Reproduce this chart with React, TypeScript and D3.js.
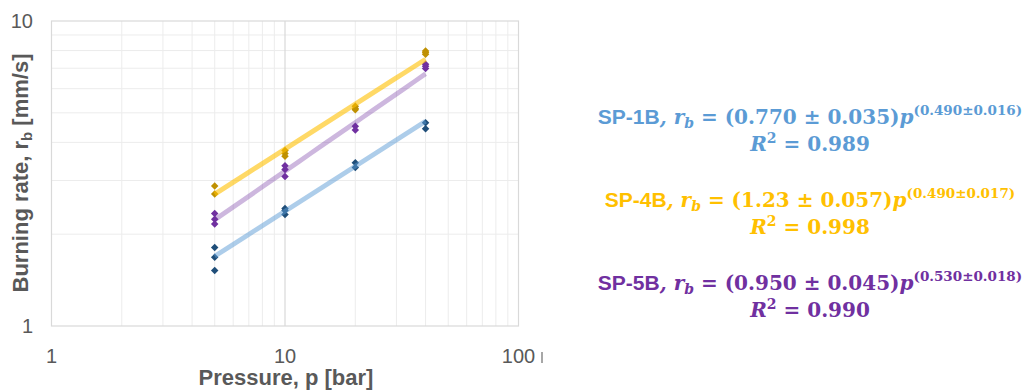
import React from "react";
import * as d3 from "d3";

// Burning-rate measurements (pressure in bar, rate in mm/s)
const sp1bPressure = [5, 5, 5, 10, 10, 10, 20, 20, 40, 40];
const sp1bRate = [1.81, 1.68, 1.52, 2.43, 2.39, 2.32, 3.43, 3.31, 4.64, 4.43];

const sp4bPressure = [5, 5, 10, 10, 10, 20, 20, 20, 40, 40, 40];
const sp4bRate = [2.88, 2.71, 3.76, 3.68, 3.6, 5.25, 5.17, 5.12, 7.98, 7.88, 7.78];

const sp5bPressure = [5, 5, 5, 10, 10, 10, 20, 20, 40, 40, 40];
const sp5bRate = [2.34, 2.24, 2.16, 3.35, 3.26, 3.09, 4.52, 4.39, 7.22, 7.1, 6.98];

// Power-law fits r_b = a * p^n
const seriesNames = ["SP-1B", "SP-4B", "SP-5B"];
const fitCoef = ["0.770", "1.23", "0.950"];
const fitCoefErr = ["0.035", "0.057", "0.045"];
const fitExp = ["0.490", "0.490", "0.530"];
const fitExpErr = ["0.016", "0.017", "0.018"];
const fitR2 = ["0.989", "0.998", "0.990"];
const fitRange = [5, 40];

const xTicks = [1, 10, 100];
const yTicks = [1, 10];

const W = 1025;
const H = 390;
const plot = { left: 51.5, right: 518.5, top: 21, bottom: 326 };

const markerColors = ["#1f4e79", "#bf9000", "#7030a0"];
const lineColors = ["#5b9bd5", "#ffc000", "#7030a0"];
const lineOpacity = [0.5, 0.6, 0.35];
const labelColors = ["#5b9bd5", "#ffc000", "#7030a0"];

const TEXT = "#595959";
const SANS = "'Liberation Sans', Arial, sans-serif";
const MATH = "'DejaVu Serif', serif";

export default function App() {
  const x = d3.scaleLog().domain([1, 100]).range([plot.left, plot.right]);
  const y = d3.scaleLog().domain([1, 10]).range([plot.bottom, plot.top]);

  const series = [
    { p: sp1bPressure, r: sp1bRate },
    { p: sp4bPressure, r: sp4bRate },
    { p: sp5bPressure, r: sp5bRate },
  ];

  const xMinor: number[] = [];
  const yMinor: number[] = [];
  for (const dec of [1, 10]) {
    for (let k = 2; k <= 9; k++) xMinor.push(dec * k);
  }
  for (let k = 2; k <= 9; k++) yMinor.push(k);

  const diamond = d3.symbol(d3.symbolSquare, 28)() as string;

  const fitPath = (i: number) => {
    const a = +fitCoef[i];
    const n = +fitExp[i];
    const pts = d3.range(0, 21).map((k) => fitRange[0] * Math.pow(fitRange[1] / fitRange[0], k / 20));
    return d3
      .line<number>()
      .x((p) => x(p))
      .y((p) => y(a * Math.pow(p, n)))(pts) as string;
  };

  const legendX = 810;
  const legendBase = [124, 207, 290];

  return (
    <svg
      width={W}
      height={H}
      style={{ position: "absolute", left: 0, top: 0, background: "#fff" }}
    >
      <rect x={0} y={0} width={W} height={H} fill="#fff" />
      {/* grid */}
      {xMinor.map((v) => (
        <line key={"xm" + v} x1={x(v)} x2={x(v)} y1={plot.top} y2={plot.bottom} stroke="#ececec" strokeWidth={1} />
      ))}
      {yMinor.map((v) => (
        <line key={"ym" + v} x1={plot.left} x2={plot.right} y1={y(v)} y2={y(v)} stroke="#ececec" strokeWidth={1} />
      ))}
      <line x1={x(10)} x2={x(10)} y1={plot.top} y2={plot.bottom} stroke="#d9d9d9" strokeWidth={1.2} />
      <rect
        x={plot.left}
        y={plot.top}
        width={plot.right - plot.left}
        height={plot.bottom - plot.top}
        fill="none"
        stroke="#d9d9d9"
        strokeWidth={1.2}
      />

      {/* measured points */}
      {series.map((s, i) =>
        s.p.map((p, j) => (
          <path
            key={`m${i}-${j}`}
            d={diamond}
            transform={`translate(${x(p)},${y(s.r[j])}) rotate(45)`}
            fill={markerColors[i]}
          />
        ))
      )}

      {/* power-law trend lines */}
      {series.map((_, i) => (
        <path
          key={"fit" + i}
          d={fitPath(i)}
          fill="none"
          stroke={lineColors[i]}
          strokeOpacity={lineOpacity[i]}
          strokeWidth={4.8}
        />
      ))}

      {/* axis tick labels */}
      {yTicks.map((v) => (
        <text key={"yt" + v} x={33} y={y(v) + 7} textAnchor="end" fontFamily={SANS} fontSize={20} fill={TEXT}>
          {v}
        </text>
      ))}
      {xTicks.map((v) => (
        <text key={"xt" + v} x={x(v)} y={363} textAnchor="middle" fontFamily={SANS} fontSize={20} fill={TEXT}>
          {v}
        </text>
      ))}
      <line x1={542} x2={542} y1={352} y2={363} stroke={TEXT} strokeWidth={1.5} strokeOpacity={0.7} />

      {/* axis titles */}
      <text x={(plot.left + plot.right) / 2 + 1} y={385} textAnchor="middle" fontFamily={SANS} fontSize={22} fontWeight="bold" fill={TEXT}>
        Pressure, p [bar]
      </text>
      <text
        transform="translate(28,173) rotate(-90)"
        textAnchor="middle"
        fontFamily={SANS}
        fontSize={22}
        fontWeight="bold"
        fill={TEXT}
      >
        Burning rate, r
        <tspan fontSize={15} dy={4}>b</tspan>
        <tspan dy={-4}> [mm/s]</tspan>
      </text>

      {/* fit equations */}
      {seriesNames.map((name, i) => (
        <g key={"eq" + i} fill={labelColors[i]} fontWeight="bold">
          <text x={legendX} y={legendBase[i]} textAnchor="middle" fontSize={20}>
            <tspan fontFamily={SANS} fontSize={21}>{name}</tspan>
            <tspan fontFamily={MATH} fontStyle="italic">, r</tspan>
            <tspan fontFamily={MATH} fontStyle="italic" fontSize={14} dy={4}>b</tspan>
            <tspan fontFamily={MATH} dy={-4}>{` = (${fitCoef[i]} \u00B1 ${fitCoefErr[i]})`}</tspan>
            <tspan fontFamily={MATH} fontStyle="italic">p</tspan>
            <tspan fontFamily={MATH} fontSize={13.5} dy={-9}>{`(${fitExp[i]}\u00B1${fitExpErr[i]})`}</tspan>
          </text>
          <text x={legendX} y={legendBase[i] + 27} textAnchor="middle" fontSize={20} fontFamily={MATH}>
            <tspan fontStyle="italic">R</tspan>
            <tspan fontSize={14} dy={-8}>2</tspan>
            <tspan dy={8}>{` = ${fitR2[i]}`}</tspan>
          </text>
        </g>
      ))}
    </svg>
  );
}
